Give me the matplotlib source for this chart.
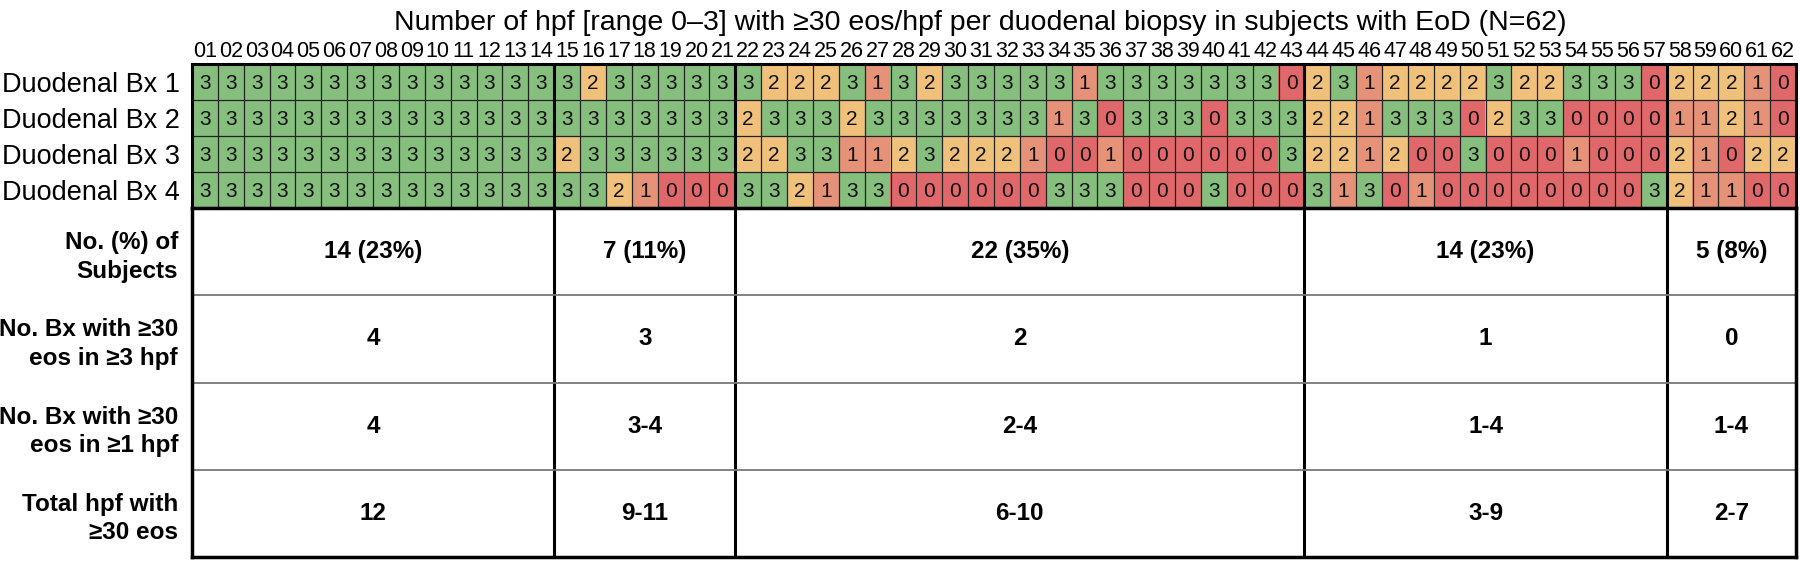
import matplotlib
matplotlib.use("Agg")
import matplotlib.pyplot as plt
import numpy as np
from matplotlib.colors import ListedColormap

plt.rcParams["font.family"] = ["Liberation Sans", "DejaVu Sans"]

# hpf counts (0-3) per biopsy, subjects 01..62
bx1 = [3]*14 + [3, 2, 3, 3, 3, 3, 3] + \
      [3, 2, 2, 2, 3, 1, 3, 2, 3, 3, 3, 3, 3, 1, 3, 3, 3, 3, 3, 3, 3, 0] + \
      [2, 3, 1, 2, 2, 2, 2, 3, 2, 2, 3, 3, 3, 0] + [2, 2, 2, 1, 0]
bx2 = [3]*14 + [3, 3, 3, 3, 3, 3, 3] + \
      [2, 3, 3, 3, 2, 3, 3, 3, 3, 3, 3, 3, 1, 3, 0, 3, 3, 3, 0, 3, 3, 3] + \
      [2, 2, 1, 3, 3, 3, 0, 2, 3, 3, 0, 0, 0, 0] + [1, 1, 2, 1, 0]
bx3 = [3]*14 + [2, 3, 3, 3, 3, 3, 3] + \
      [2, 2, 3, 3, 1, 1, 2, 3, 2, 2, 2, 1, 0, 0, 1, 0, 0, 0, 0, 0, 0, 3] + \
      [2, 2, 1, 2, 0, 0, 3, 0, 0, 0, 1, 0, 0, 0] + [2, 1, 0, 2, 2]
bx4 = [3]*14 + [3, 3, 2, 1, 0, 0, 0] + \
      [3, 3, 2, 1, 3, 3, 0, 0, 0, 0, 0, 0, 3, 3, 3, 0, 0, 0, 3, 0, 0, 0] + \
      [3, 1, 3, 0, 1, 0, 0, 0, 0, 0, 0, 0, 0, 3] + [2, 1, 1, 0, 0]

row_labels = ["Duodenal Bx 1", "Duodenal Bx 2", "Duodenal Bx 3", "Duodenal Bx 4"]
subjects = ["%02d" % i for i in range(1, 63)]

# groups of subjects (size of each group) and summary rows
group_sizes = [14, 7, 22, 14, 5]
n_subjects = ["14 (23%)", "7 (11%)", "22 (35%)", "14 (23%)", "5 (8%)"]
bx_3hpf = ["4", "3", "2", "1", "0"]
bx_1hpf = ["4", "3-4", "2-4", "1-4", "1-4"]
total_hpf = ["12", "9-11", "6-10", "3-9", "2-7"]
summary_labels = ["No. (%) of\nSubjects", "No. Bx with \u226530\neos in \u22653 hpf",
                  "No. Bx with \u226530\neos in \u22651 hpf", "Total hpf with\n\u226530 eos"]

title = "Number of hpf [range 0\u20133] with \u226530 eos/hpf per duodenal biopsy in subjects with EoD (N=62)"

colors = ["#e0686a", "#e69278", "#f0c17a", "#85be7d"]

W, H = 1800, 562
fig = plt.figure(figsize=(18, 5.62), dpi=100)

x0, x1 = 192, 1796
gtop, gbot, sbot = 64, 208, 557

# heatmap grid
ax = fig.add_axes([x0/W, 1 - gbot/H, (x1 - x0)/W, (gbot - gtop)/H])
data = np.array([bx1, bx2, bx3, bx4])
ax.imshow(data, cmap=ListedColormap(colors), vmin=-0.5, vmax=3.5,
          aspect="auto", interpolation="nearest",
          extent=(-0.5, data.shape[1] - 0.5, data.shape[0] - 0.5, -0.5))
for r in range(data.shape[0]):
    for c in range(data.shape[1]):
        ax.text(c, r + 0.03, str(data[r, c]), ha="center", va="center", fontsize=15, color="#111")
for c in range(1, data.shape[1]):
    ax.axvline(c - 0.5, color="#222", lw=0.9)
for r in range(1, data.shape[0]):
    ax.axhline(r - 0.5, color="#222", lw=0.9)
bounds = np.cumsum(group_sizes)[:-1]
for b in bounds:
    ax.axvline(b - 0.5, color="black", lw=2.2)
ax.set_xlim(-0.5, data.shape[1] - 0.5)
ax.set_ylim(data.shape[0] - 0.5, -0.5)
ax.xaxis.tick_top()
ax.set_xticks(range(len(subjects)))
ax.set_xticklabels(subjects, fontsize=15.5)
ax.set_yticks(range(len(row_labels)))
ax.set_yticklabels(row_labels, fontsize=19.5)
ax.tick_params(axis="x", length=0, pad=1.5)
ax.tick_params(axis="y", length=0, pad=9)
for s in ax.spines.values():
    s.set_linewidth(2.2)

# summary table
ax2 = fig.add_axes([x0/W, 1 - sbot/H, (x1 - x0)/W, (sbot - gbot)/H])
ax2.set_xlim(-0.5, data.shape[1] - 0.5)
ax2.set_ylim(4, 0)
for b in bounds:
    ax2.axvline(b - 0.5, color="black", lw=2.2)
for r in range(1, 4):
    ax2.axhline(r, color="#777", lw=1.3)
starts = np.concatenate([[0], bounds])
centers = starts + np.array(group_sizes) / 2 - 0.5
for r, vals in enumerate([n_subjects, bx_3hpf, bx_1hpf, total_hpf]):
    for cx, v in zip(centers, vals):
        ax2.text(cx, r + 0.5, v, ha="center", va="center", fontsize=17.5, fontweight="bold")
ax2.set_xticks([])
ax2.set_yticks([r + 0.5 for r in range(4)])
ax2.set_yticklabels(summary_labels, fontsize=17.5, fontweight="bold", linespacing=1.3)
ax2.tick_params(length=0, pad=10)
for s in ax2.spines.values():
    s.set_linewidth(2.5)

fig.text(980/W, 1 - 23/H, title, ha="center", va="center", fontsize=20.5)

fig.savefig("out.png", dpi=100)
